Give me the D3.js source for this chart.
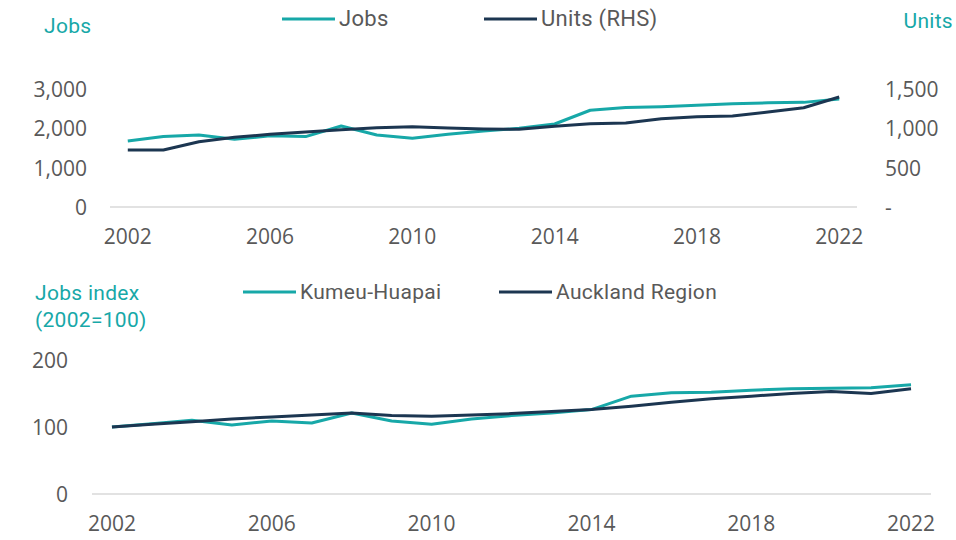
<!DOCTYPE html>
<html>
<head>
<meta charset="utf-8">
<script src="https://cdn.jsdelivr.net/npm/d3@7"></script>
<style>
  body { margin: 0; background: #fff; }
  .tick text { font-family: "Open Sans", sans-serif; font-size: 21px; fill: #595959; }
  .lbl { font-family: Roboto, sans-serif; font-size: 21px; letter-spacing: 0.3px; }
</style>
</head>
<body>
<script>
const years = d3.range(2002, 2023);
const yearTicks = [2002, 2006, 2010, 2014, 2018, 2022];

// top panel
const jobs = [1680, 1790, 1830, 1720, 1810, 1790, 2060, 1830, 1750, 1850, 1930, 2000, 2110,
              2460, 2530, 2550, 2590, 2625, 2650, 2660, 2745];
const units = [725, 725, 830, 886, 924, 953, 983, 1008, 1021, 1004, 992, 988, 1026,
               1059, 1068, 1123, 1148, 1157, 1208, 1262, 1398];
const jobsTicks = [0, 1000, 2000, 3000];
const unitsTicks = [0, 500, 1000, 1500];

// bottom panel
const kumeu = [100, 105, 110, 103, 109, 106, 121, 109, 104, 112, 117, 121, 126,
               146, 151, 152, 155, 157, 158, 158.5, 163];
const auckland = [100, 104, 108, 112, 115, 118, 121, 117, 116, 118, 120, 123, 126,
                  131, 137, 142, 146, 150, 153, 150, 157];
const indexTicks = [0, 100, 200];

const teal = "#17a8a8", navy = "#1c3651", grey = "#595959";

const svg = d3.select("body").append("svg")
    .attr("width", 956).attr("height", 540);

function panel(o) {
  const x = d3.scaleBand().domain(years).range([o.x0, o.x1]);
  const y = d3.scaleLinear().domain(o.domain).range([o.yBase, o.yTop]);

  svg.append("line")
      .attr("x1", o.x0).attr("x2", o.x1)
      .attr("y1", o.yBase).attr("y2", o.yBase)
      .attr("stroke", "#d9d9d9").attr("stroke-width", 1.5);

  svg.append("g")
      .attr("transform", `translate(0,${o.yBase + 14})`)
      .call(d3.axisBottom(x).tickValues(yearTicks).tickSize(0).tickPadding(8))
      .call(g => g.select(".domain").remove());

  svg.append("g")
      .attr("transform", `translate(${o.yLabelX},0)`)
      .call(d3.axisLeft(y).tickValues(o.leftTicks).tickSize(0).tickPadding(0)
              .tickFormat(d3.format(",")))
      .call(g => g.select(".domain").remove())
      .call(g => g.selectAll("text").attr("dy", "0.35em"));

  let y2 = null;
  if (o.right) {
    y2 = d3.scaleLinear().domain(o.right.domain).range([o.yBase, o.yTop]);
    svg.append("g")
        .attr("transform", `translate(${o.right.x},0)`)
        .call(d3.axisRight(y2).tickValues(o.right.ticks).tickSize(0).tickPadding(0)
                .tickFormat(d => d === 0 ? "-" : d3.format(",")(d)))
        .call(g => g.select(".domain").remove())
        .call(g => g.selectAll("text").attr("dy", "0.35em"));
  }

  o.series.forEach(s => {
    const sc = s.rhs ? y2 : y;
    const line = d3.line()
        .x((d, i) => x(years[i]) + x.bandwidth() / 2)
        .y(d => sc(d));
    svg.append("path")
        .datum(s.values)
        .attr("fill", "none")
        .attr("stroke", s.color)
        .attr("stroke-width", 3)
        .attr("stroke-linejoin", "round")
        .attr("d", line);
  });
}

panel({
  x0: 110, x1: 857, yBase: 207, yTop: 89, domain: [0, 3000], yLabelX: 87,
  leftTicks: jobsTicks,
  right: { domain: [0, 1500], ticks: unitsTicks, x: 885 },
  series: [
    { values: jobs, color: teal },
    { values: units, color: navy, rhs: true }
  ]
});

panel({
  x0: 92, x1: 931, yBase: 494, yTop: 360, domain: [0, 200], yLabelX: 68,
  leftTicks: indexTicks,
  series: [
    { values: kumeu, color: teal },
    { values: auckland, color: navy }
  ]
});

// axis titles
svg.append("text").attr("class", "lbl").attr("x", 44).attr("y", 33)
    .attr("fill", teal).text("Jobs");
svg.append("text").attr("class", "lbl").attr("x", 953).attr("y", 28)
    .attr("text-anchor", "end").attr("fill", teal).text("Units");
svg.append("text").attr("class", "lbl").attr("x", 35).attr("y", 300)
    .attr("fill", teal).text("Jobs index");
svg.append("text").attr("class", "lbl").attr("x", 35).attr("y", 327)
    .attr("fill", teal).text("(2002=100)");

// legends
function legend(items, size) {
  items.forEach(it => {
    svg.append("line")
        .attr("x1", it.x).attr("x2", it.x + 53)
        .attr("y1", it.y).attr("y2", it.y)
        .attr("stroke", it.color).attr("stroke-width", 3);
    svg.append("text").attr("class", "lbl")
        .attr("x", it.x + 57).attr("y", it.y + 7)
        .style("font-size", size + "px")
        .attr("fill", grey).text(it.name);
  });
}
legend([
  { name: "Jobs", color: teal, x: 282, y: 19 },
  { name: "Units (RHS)", color: navy, x: 484, y: 19 }
], 22);
legend([
  { name: "Kumeu-Huapai", color: teal, x: 243, y: 292 },
  { name: "Auckland Region", color: navy, x: 499, y: 292 }
], 21);
</script>
</body>
</html>
